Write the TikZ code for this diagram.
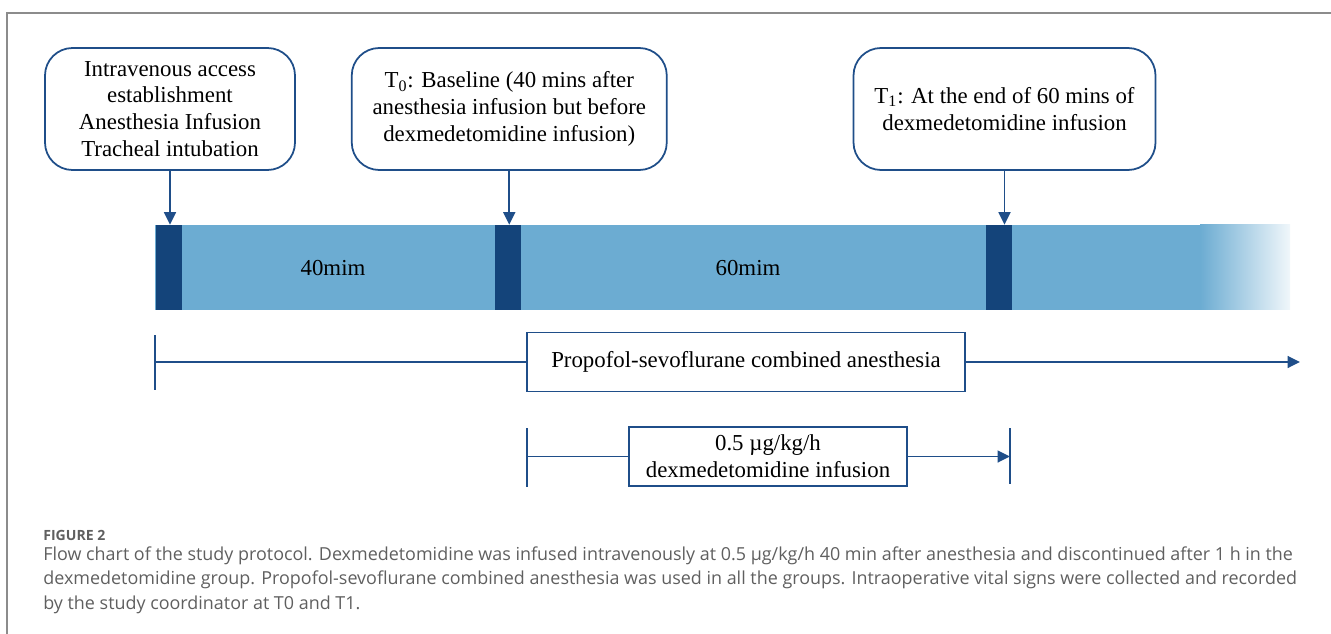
\documentclass[tikz,border=0pt]{standalone}
\usepackage{fontspec}
\setmainfont{Liberation Serif}
\newfontfamily\capfont{Open Sans}
\usetikzlibrary{positioning,arrows.meta}
\definecolor{barblue}{RGB}{108,172,210}
\definecolor{markblue}{RGB}{20,68,122}
\definecolor{lineblue}{RGB}{31,78,137}
\definecolor{framegray}{RGB}{140,140,140}
\definecolor{capgray}{RGB}{95,95,95}

\begin{document}
\begin{tikzpicture} [font=\fontsize{13}{15.3}\selectfont, event/.style={rectangle, rounded corners=0.55cm, draw=lineblue, line width=1pt, align=center, minimum height=2.44cm, fill=white}, stage/.style={rectangle, draw=lineblue, line width=1pt, align=center, minimum height=1.18cm, fill=white}, marker/.style={rectangle, fill=markblue, minimum width=0.52cm, minimum height=1.7cm, inner sep=0pt}, arr/.style={draw=lineblue, line width=1pt, -{Triangle[length=0.25cm,width=0.24cm]}}, tick/.style={draw=lineblue, line width=1pt}]
  \useasboundingbox (0,0) rectangle (26.62,-12.68);
  % Frame
  \draw [framegray, line width=0.6pt] (0.14,-12.68) -- (0.14,-0.26) -- (26.62,-0.26);
  % Timeline bar
  \fill [barblue] (3.1,-4.5) rectangle (24.05,-6.2);
  \shade [left color=barblue, right color=barblue!10] (24.0,-4.5) rectangle (25.8,-6.2);
  \node [marker] (m1) at (3.37,-5.35) {};
  \node [marker] (m2) at (10.16,-5.35) {};
  \node [marker] (m3) at (19.98,-5.35) {};
  \node (d40) at (6.66,-5.36) {40mim};
  \node (d60) at (14.96,-5.36) {60mim};
  % Time points
  \node [event, minimum width=5cm] (intub) at (3.4,-2.18) {Intravenous access\\establishment\\Anesthesia Infusion\\Tracheal intubation};
  \node [event, minimum width=6.3cm, right=1.1cm of intub] (base) {T\textsubscript{0}: Baseline (40 mins after\\anesthesia infusion but before\\dexmedetomidine infusion)};
  \node [event, minimum width=6.04cm, right=3.7cm of base] (endpt) {T\textsubscript{1}: At the end of 60 mins of\\dexmedetomidine infusion};
  \draw [arr] (intub.south) -- (intub.south |- m1.north);
  \draw [arr] (base.south) -- (base.south |- m2.north);
  \draw [arr] (endpt.south) -- (endpt.south |- m3.north);
  % Anesthesia
  \coordinate (anesStart) at (3.1,-7.24);
  \coordinate (anesEnd) at (26.0,-7.24);
  \node [stage, minimum width=8.76cm] (anes) at (14.92,-7.24) {Propofol-sevoflurane combined anesthesia};
  \draw [tick] ([yshift=0.54cm]anesStart) -- ([yshift=-0.56cm]anesStart);
  \draw [tick] (anesStart) -- (anes.west);
  \draw [arr] (anes.east) -- (anesEnd);
  % Dexmedetomidine
  \coordinate (dexStart) at (10.54,-9.13);
  \coordinate (dexEnd) at (20.2,-9.13);
  \node [stage, minimum width=5.56cm] (dex) at (15.36,-9.13) {0.5 µg/kg/h\\dexmedetomidine infusion};
  \draw [tick] ([yshift=0.57cm]dexStart) -- ([yshift=-0.61cm]dexStart);
  \draw [tick] ([yshift=0.57cm]dexEnd) -- ([yshift=-0.55cm]dexEnd);
  \draw [tick] (dexStart) -- (dex.west);
  \draw [arr] (dex.east) -- (dexEnd);
  % Caption
  \node [anchor=west, inner sep=0pt, text=capgray, font=\capfont\bfseries\fontsize{8}{9}\selectfont] (figno) at (0.86,-10.71) {FIGURE 2};
  \node [anchor=west, inner sep=0pt, align=left, text=capgray, font=\capfont\fontsize{10.2}{13.9}\selectfont] (caption) at (0.86,-11.6) {Flow chart of the study protocol. Dexmedetomidine was infused intravenously at 0.5 µg/kg/h 40 min after anesthesia and discontinued after 1 h in the\\dexmedetomidine group. Propofol-sevoflurane combined anesthesia was used in all the groups. Intraoperative vital signs were collected and recorded\\by the study coordinator at T0 and T1.};
\end{tikzpicture}
\end{document}
